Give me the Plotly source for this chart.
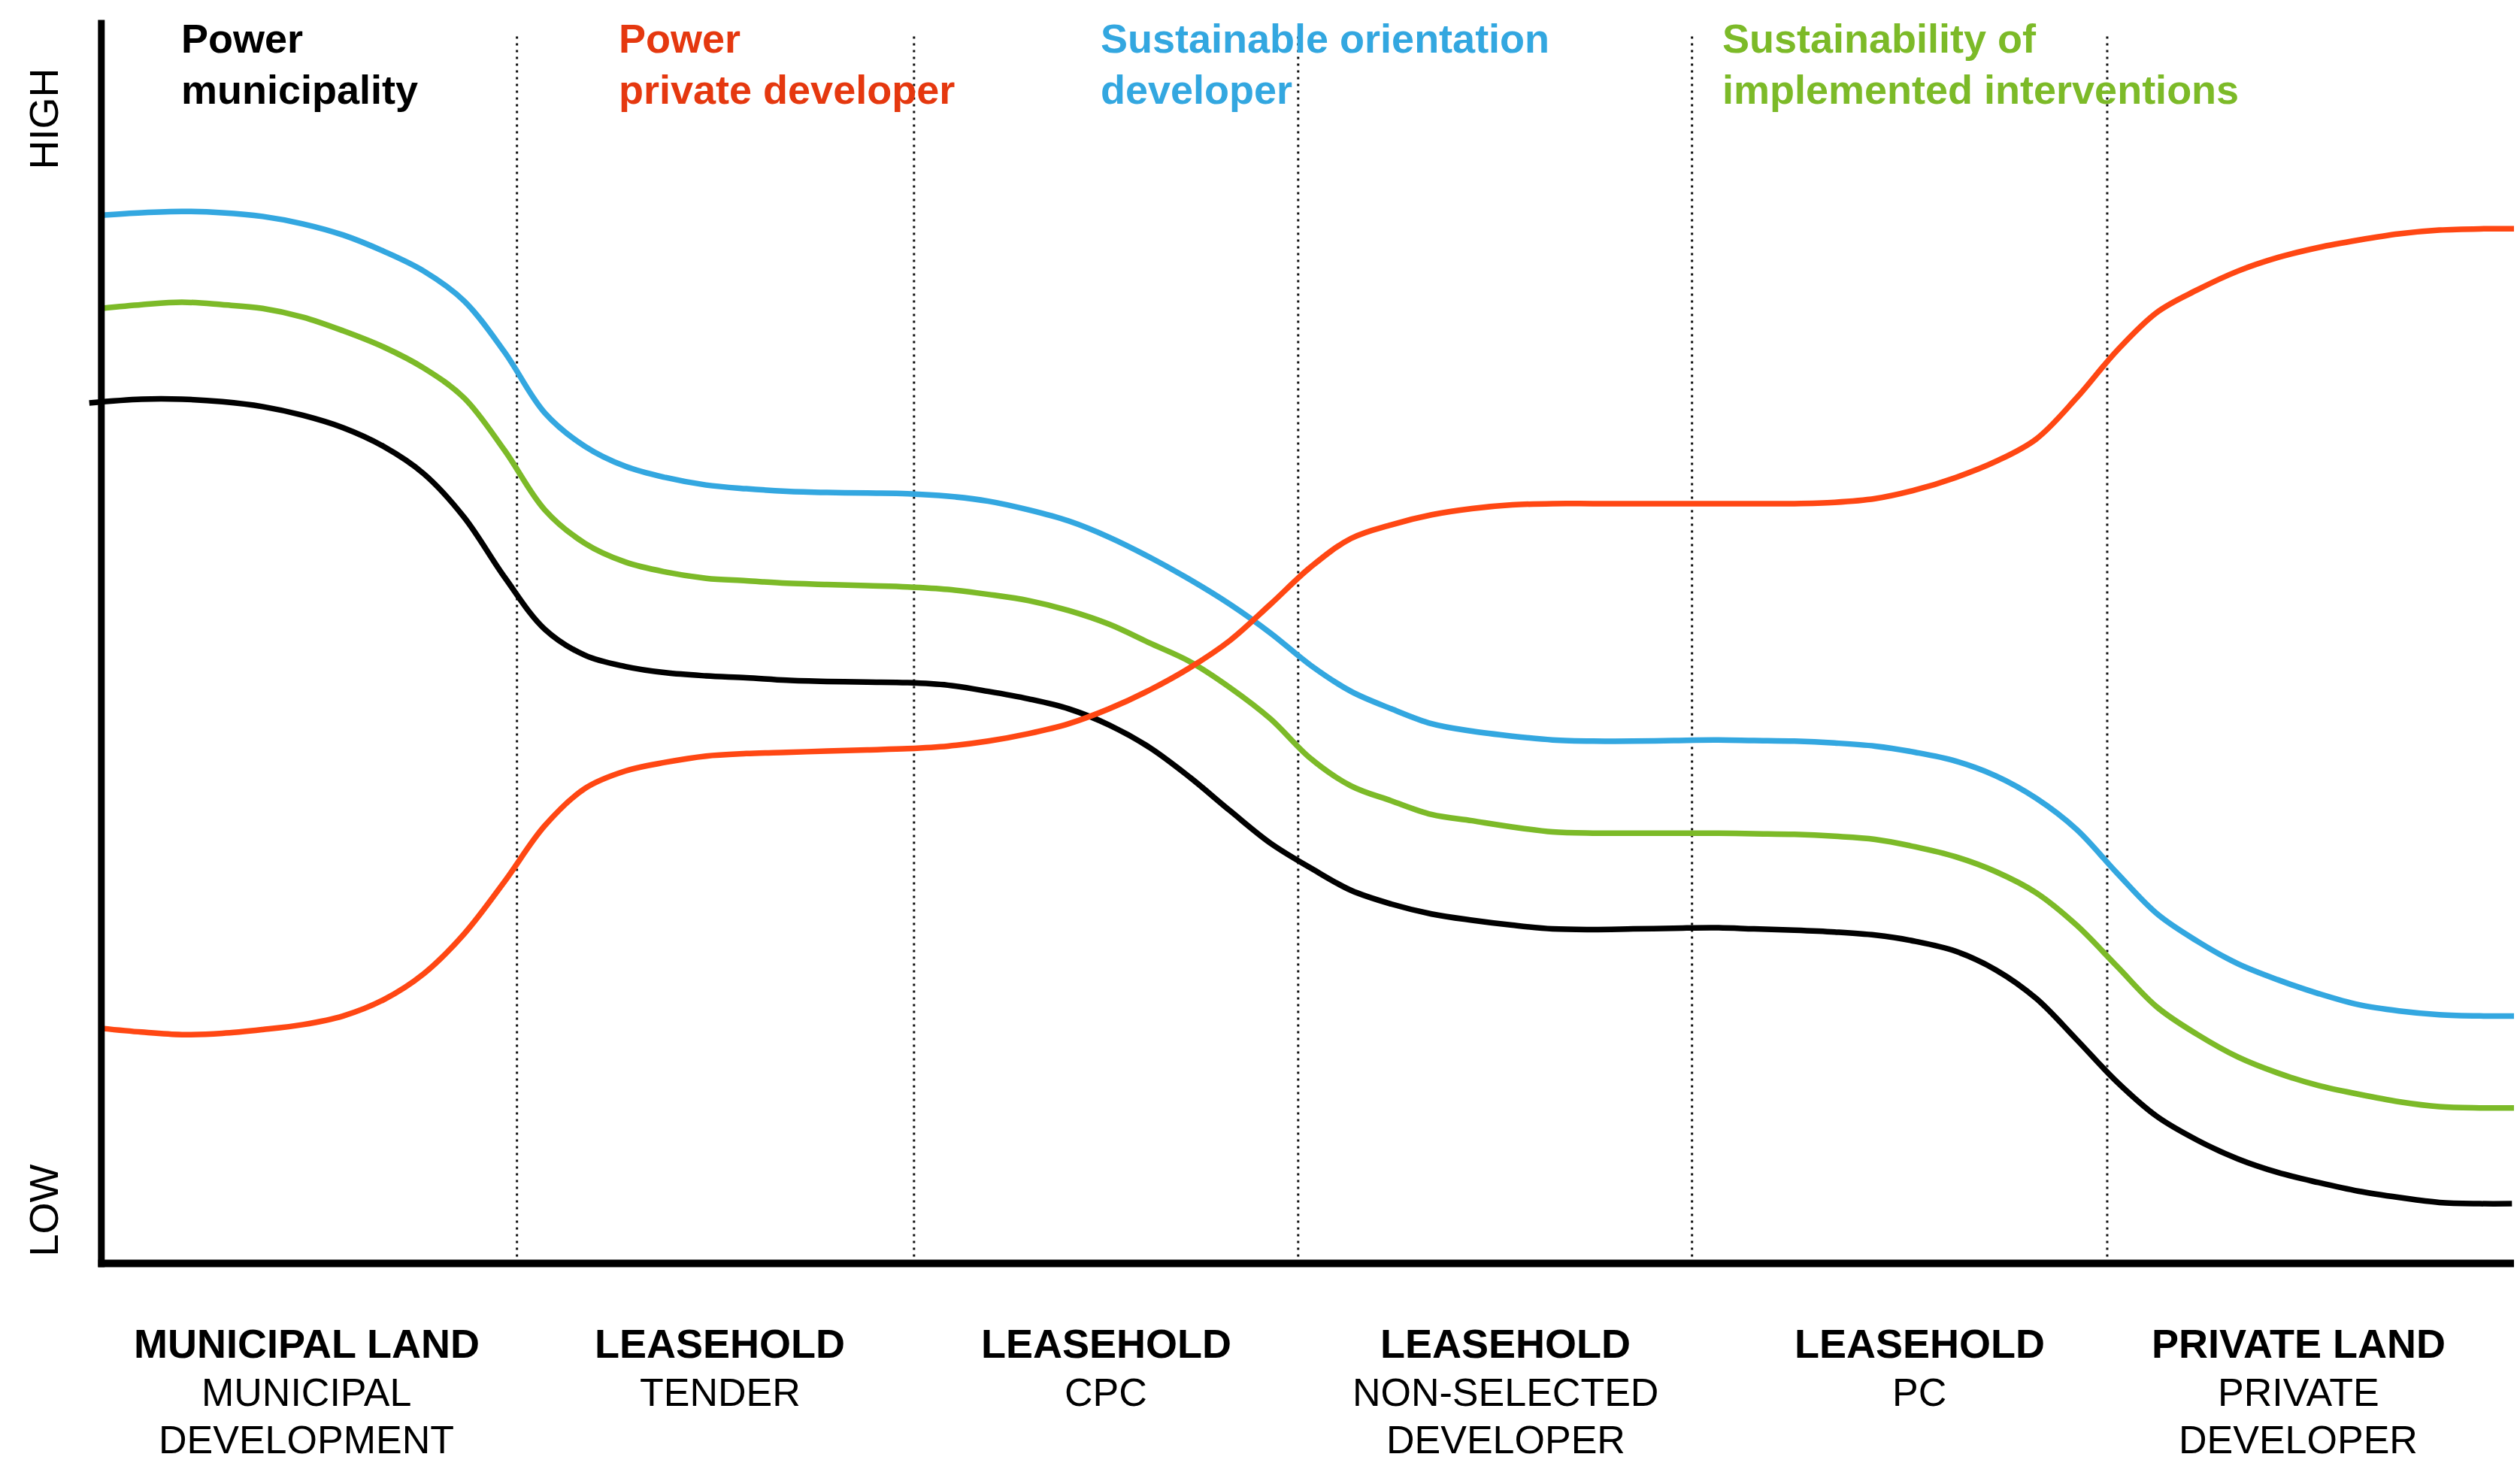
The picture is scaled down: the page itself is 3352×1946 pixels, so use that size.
import plotly.graph_objects as go

# ---------------- data ----------------
# x: position along the land-development stages (0 = y axis, 6 = right end)
# y: relative level (0 = LOW, 100 = HIGH)
stage_bold = ["MUNICIPAL LAND", "LEASEHOLD", "LEASEHOLD", "LEASEHOLD", "LEASEHOLD", "PRIVATE LAND"]
stage_sub = [["MUNICIPAL", "DEVELOPMENT"], ["TENDER"], ["CPC"], ["NON-SELECTED", "DEVELOPER"], ["PC"], ["PRIVATE", "DEVELOPER"]]
stage_centers = [0.509, 1.535, 2.492, 3.484, 4.510, 5.450]
dividers = [1.031, 2.016, 2.969, 3.946, 4.976]

x_pos = [round(i * 0.1, 1) for i in range(61)]  # sample positions 0.0 ... 6.0

blue_y = [84.3, 84.5, 84.6, 84.5, 84.2, 83.6, 82.7, 81.4, 79.8, 77.4,
          73.3, 68.4, 65.7, 64.1, 63.2, 62.6, 62.3, 62.1, 62.0, 61.95,
          61.9, 61.7, 61.3, 60.6, 59.7, 58.4, 56.8, 55.0, 53.0, 50.7,
          48.1, 46.0, 44.6, 43.4, 42.8, 42.4, 42.1, 42.0, 42.0, 42.05,
          42.1, 42.05, 42.0, 41.85, 41.6, 41.1, 40.4, 39.2, 37.4, 34.9,
          31.4, 28.1, 25.9, 24.1, 22.8, 21.7, 20.8, 20.3, 20.0, 19.9, 19.9]
green_y = [76.8, 77.1, 77.3, 77.1, 76.8, 76.1, 75.0, 73.7, 72.0, 69.6,
           65.4, 60.6, 57.9, 56.4, 55.6, 55.1, 54.9, 54.7, 54.6, 54.5,
           54.4, 54.2, 53.8, 53.3, 52.5, 51.4, 49.9, 48.4, 46.3, 43.8,
           40.6, 38.4, 37.2, 36.1, 35.6, 35.1, 34.7, 34.6, 34.6, 34.6,
           34.6, 34.55, 34.5, 34.35, 34.1, 33.5, 32.7, 31.5, 29.8, 27.2,
           23.9, 20.6, 18.4, 16.6, 15.3, 14.3, 13.6, 13.0, 12.6, 12.5, 12.5]
black_y = [69.2, 69.5, 69.5, 69.3, 68.9, 68.2, 67.2, 65.7, 63.5, 60.0,
           55.2, 51.0, 48.9, 48.0, 47.5, 47.25, 47.1, 46.9, 46.8, 46.75,
           46.7, 46.5, 46.0, 45.4, 44.6, 43.3, 41.5, 39.1, 36.4, 33.8,
           31.8, 30.0, 28.9, 28.1, 27.6, 27.2, 26.9, 26.85, 26.9, 26.95,
           27.0, 26.9, 26.8, 26.65, 26.4, 25.9, 25.1, 23.6, 21.3, 18.0,
           14.6, 11.8, 9.9, 8.4, 7.3, 6.5, 5.8, 5.3, 4.9, 4.8, 4.8]
orange_y = [18.9, 18.6, 18.4, 18.5, 18.8, 19.2, 19.9, 21.2, 23.3, 26.5,
            30.7, 35.2, 38.2, 39.6, 40.3, 40.8, 41.0, 41.1, 41.2, 41.3,
            41.4, 41.6, 42.0, 42.6, 43.4, 44.6, 46.1, 47.9, 50.1, 53.0,
            56.0, 58.3, 59.4, 60.2, 60.7, 61.0, 61.1, 61.1, 61.1, 61.1,
            61.1, 61.1, 61.1, 61.2, 61.5, 62.2, 63.2, 64.5, 66.3, 69.6,
            73.4, 76.5, 78.3, 79.8, 80.9, 81.7, 82.3, 82.8, 83.1, 83.2, 83.2]
# the black line starts slightly left of the axis and stops just short of the right edge
black_x = [-0.03] + x_pos[1:-1] + [5.98]

series_titles = [["Power", "municipality"], ["Power", "private developer"],
                 ["Sustainable orientation", "developer"], ["Sustainability of", "implemented interventions"]]
title_x = [0.195, 1.279, 2.475, 4.018]

BLACK = "#000000"
ORANGE = "#FF4713"
ORANGE_TXT = "#E5380F"
BLUE = "#33A7E0"
GREEN = "#7CBA28"

FONT = "Liberation Sans, Arial, sans-serif"

fig = go.Figure()

for xs, ys, col in [(x_pos, blue_y, BLUE), (x_pos, green_y, GREEN),
                    (black_x, black_y, BLACK), (x_pos, orange_y, ORANGE)]:
    fig.add_trace(go.Scatter(x=xs, y=ys, mode="lines",
                             line=dict(color=col, width=7.5, shape="spline", smoothing=1.0),
                             hoverinfo="skip", showlegend=False))

shapes = []
for d in dividers:
    shapes.append(dict(type="line", xref="x", yref="y", x0=d, x1=d, y0=0, y1=98.7,
                       line=dict(color="#111111", width=3, dash="3px,6px"), layer="below"))
# axes
shapes.append(dict(type="line", xref="x", yref="y", x0=0, x1=0, y0=-0.3, y1=100,
                   line=dict(color="black", width=9)))
shapes.append(dict(type="line", xref="x", yref="y", x0=-0.008, x1=6.05, y0=0, y1=0,
                   line=dict(color="black", width=10)))

ann = []
title_cols = [BLACK, ORANGE_TXT, BLUE, GREEN]
for tx, lines, col in zip(title_x, series_titles, title_cols):
    for i, ln in enumerate(lines):
        ann.append(dict(x=tx, y=[98.5, 94.4][i], xref="x", yref="y", text="<b>%s</b>" % ln,
                        showarrow=False, xanchor="left", yanchor="middle",
                        font=dict(family=FONT, size=54, color=col)))

for cx, b, subs in zip(stage_centers, stage_bold, stage_sub):
    ann.append(dict(x=cx, y=-0.0536, xref="x", yref="paper", text="<b>%s</b>" % b, showarrow=False,
                    xanchor="center", yanchor="middle", font=dict(family=FONT, size=54, color="black")))
    for i, s in enumerate(subs):
        ann.append(dict(x=cx, y=[-0.0916, -0.1295][i], xref="x", yref="paper", text=s, showarrow=False,
                        xanchor="center", yanchor="middle", font=dict(family=FONT, size=52, color="black")))

ann.append(dict(x=-0.0154, y=0.912, xref="paper", yref="paper", text="HIGH", textangle=-90, showarrow=False,
                xanchor="center", yanchor="middle", font=dict(family=FONT, size=54, color="black")))
ann.append(dict(x=-0.0154, y=0.0513, xref="paper", yref="paper", text="LOW", textangle=-90, showarrow=False,
                xanchor="center", yanchor="middle", font=dict(family=FONT, size=54, color="black")))

fig.update_layout(
    width=3344, height=1938,
    margin=dict(l=100, r=0, t=2, b=249),
    paper_bgcolor="white", plot_bgcolor="white",
    xaxis=dict(range=[-0.05, 6.0], visible=False, fixedrange=True),
    yaxis=dict(range=[-1, 101], visible=False, fixedrange=True),
    shapes=shapes, annotations=ann, showlegend=False,
)

fig.write_html("out.html")
